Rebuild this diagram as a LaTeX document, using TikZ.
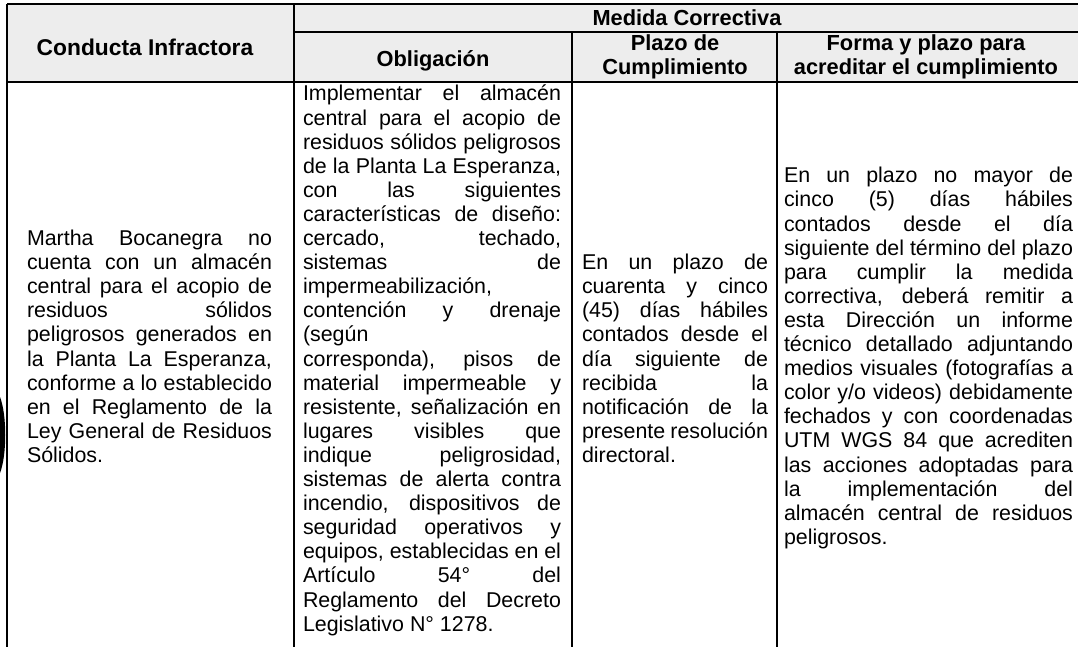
\documentclass[tikz,border=0pt]{standalone}
\usepackage{fontspec}
\setmainfont{Liberation Sans}
\newcommand\J[1]{\makebox[\linewidth][s]{#1}\par}
\newcommand\E[1]{\mbox{#1}\par}
\newcommand\cellbody[2]{\begin{minipage}[t]{#1}\fontsize{10.7pt}{12.05pt}\selectfont\setlength\parindent{0pt}\setlength\parskip{0pt}#2\end{minipage}}
\tikzset{
  grid/.style={line width=0.8pt, black},
  cell/.style={anchor=base west, inner sep=0pt, outer sep=0pt},
  head/.style={inner sep=0pt, align=center, font=\fontsize{10.9pt}{12.05pt}\selectfont\bfseries},
  headfill/.style={fill=black!7},
}
\begin{document}
\begin{tikzpicture}[x=0.5pt,y=-0.5pt]
\useasboundingbox (0,0) rectangle (1078,647);
\fill[white] (0,0) rectangle (1078,647);
\fill[headfill] (7,4) rectangle (1078,82);
% stamp fragment at left edge
\fill[black] (0,397) .. controls (7,415) and (7,455) .. (0,473) -- cycle;
% grid
\draw[grid] (7,4) -- (1078,4);
\draw[grid] (294,32) -- (1078,32);
\draw[grid] (7,82) -- (1078,82);
\draw[grid] (7,4) -- (7,647);
\draw[grid] (294,4) -- (294,647);
\draw[grid] (572,32) -- (572,647);
\draw[grid] (777,32) -- (777,647);
% headers
\node[head, font=\fontsize{11.4pt}{12.05pt}\selectfont\bfseries] (h1) at (145,47) {Conducta Infractora};
\node[head] (h0) at (687,18) {Medida Correctiva};
\node[head] (h2) at (433,61) {Obligación};
\node[head] (h3) at (675,57) {Plazo de\\Cumplimiento};
\node[head] (h4) at (926,57) {Forma y plazo para\\acreditar el cumplimiento};
% body
\node[cell] (c1) at (27,245.6) {\cellbody{122.5pt}{%
\J{Martha Bocanegra no}
\J{cuenta con un almacén}
\J{central para el acopio de}
\J{residuos sólidos}
\J{peligrosos generados en}
\J{la Planta La Esperanza,}
\J{conforme a lo establecido}
\J{en el Reglamento de la}
\J{Ley General de Residuos}
\E{Sólidos.}}};
\node[cell] (c2) at (303,101) {\cellbody{129pt}{%
\J{Implementar el almacén}
\J{central para el acopio de}
\J{residuos sólidos peligrosos}
\J{de la Planta La Esperanza,}
\J{con las siguientes}
\J{características de diseño:}
\J{cercado, techado,}
\J{sistemas de}
\E{impermeabilización,}
\J{contención y drenaje}
\E{(según}
\J{corresponda), pisos de}
\J{material impermeable y}
\J{resistente, señalización en}
\J{lugares visibles que}
\J{indique peligrosidad,}
\J{sistemas de alerta contra}
\J{incendio, dispositivos de}
\J{seguridad operativos y}
\J{equipos, establecidas en el}
\J{Artículo 54° del}
\J{Reglamento del Decreto}
\E{Legislativo N° 1278.}}};
\node[cell] (c3) at (582,269.7) {\cellbody{93pt}{%
\J{En un plazo de}
\J{cuarenta y cinco}
\J{(45) días hábiles}
\J{contados desde el}
\J{día siguiente de}
\J{recibida la}
\J{notificación de la}
\J{presente resolución}
\E{directoral.}}};
\node[cell] (c4) at (784,182.9) {\cellbody{144.5pt}{%
\J{En un plazo no mayor de}
\J{cinco (5) días hábiles}
\J{contados desde el día}
\J{siguiente del término del plazo}
\J{para cumplir la medida}
\J{correctiva, deberá remitir a}
\J{esta Dirección un informe}
\J{técnico detallado adjuntando}
\J{medios visuales (fotografías a}
\J{color y/o videos) debidamente}
\J{fechados y con coordenadas}
\J{UTM WGS 84 que acrediten}
\J{las acciones adoptadas para}
\J{la implementación del}
\J{almacén central de residuos}
\E{peligrosos.}}};
\end{tikzpicture}
\end{document}
